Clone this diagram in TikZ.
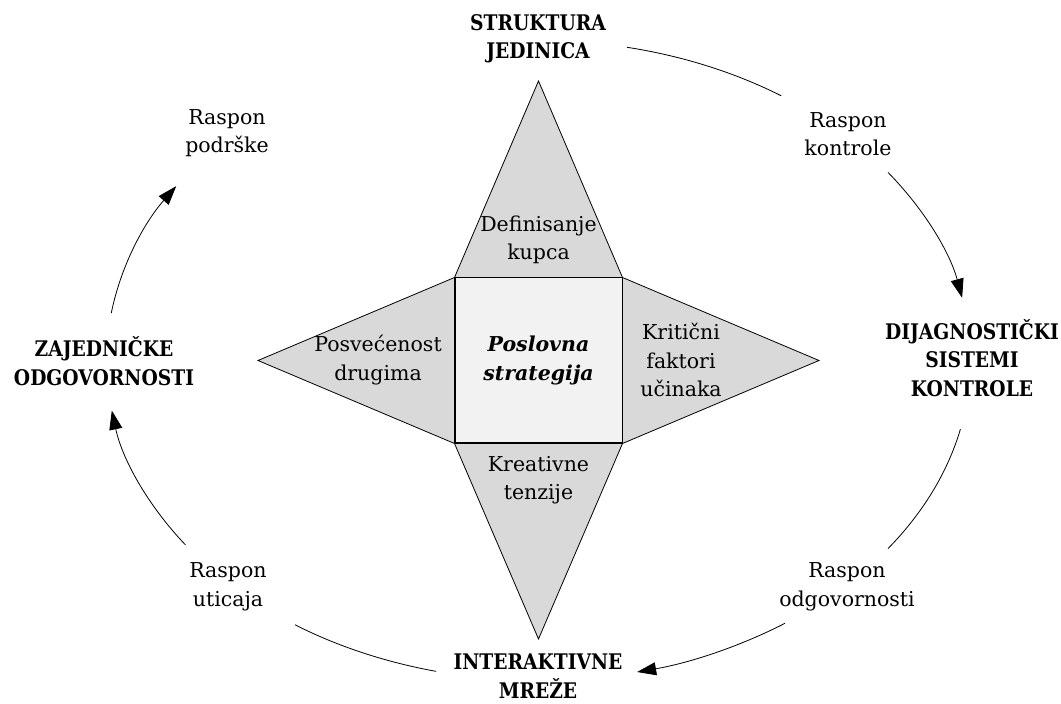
\documentclass[tikz,border=0pt]{standalone}
\usepackage{fontspec}
\setmainfont{DejaVu Serif}
\newfontfamily\headfont{DejaVu Serif}[FakeStretch=0.87]
\usetikzlibrary{arrows.meta,calc}
\definecolor{petalgray}{HTML}{D9D9D9}
\definecolor{coregray}{HTML}{F2F2F2}

\begin{document}
\begin{tikzpicture}[x=1pt,y=1pt,
  lbl/.style={align=center, inner sep=0pt, font=\fontsize{20.5}{28.5}\selectfont},
  head/.style={align=center, inner sep=0pt, font=\headfont\fontsize{21.5}{28.5}\selectfont\bfseries},
  petal/.style={draw=black, fill=petalgray, line width=0.8pt, line join=miter},
  core/.style={draw=black, fill=coregray, line width=1pt, inner sep=0pt,
               minimum width=167pt, minimum height=165pt, align=center,
               font=\fontsize{20.5}{28.5}\selectfont\bfseries\itshape},
  ring/.style={line width=0.8pt},
  flow/.style={ring, -{Triangle[length=19pt,width=13pt]}}
]
\useasboundingbox (0,0) rectangle (1061,704);

% centre of the star and of the surrounding ellipse
\coordinate (O) at (538.5,343.5);

% central square
\node[core] (core) at (O) {};

% the four petals
\coordinate (topapex) at (538.5,623);
\coordinate (botapex) at (538.5,65);
\coordinate (leftapex) at (258,343.5);
\coordinate (rightapex) at (819,343.5);
\draw[petal] (core.north west) -- (topapex) -- (core.north east) -- cycle;
\draw[petal] (core.south west) -- (botapex) -- (core.south east) -- cycle;
\draw[petal] (core.north west) -- (leftapex) -- (core.south west) -- cycle;
\draw[petal] (core.north east) -- (rightapex) -- (core.south east) -- cycle;
\node[core] (core) at (O) {Poslovna\\strategija};

% petal labels
\node[lbl] (kupac) at (538.5,464) {Definisanje\\kupca};
\node[lbl] (drugi) at (378,344) {Posvećenost\\drugima};
\node[lbl] (faktori) at (681,344) {Kritični\\faktori\\učinaka};
\node[lbl] (tenzije) at (538.5,224) {Kreativne\\tenzije};

% outer levers
\node[head] (struktura) at (538,665) {STRUKTURA\\JEDINICA};
\node[head] (dijag) at (972,346) {DIJAGNOSTIČKI\\SISTEMI\\KONTROLE};
\node[head] (mreze) at (538,28) {INTERAKTIVNE\\MREŽE};
\node[head] (zajed) at (104,343) {ZAJEDNIČKE\\ODGOVORNOSTI};

% spans between the levers
\node[lbl] (podrska) at (227,571) {Raspon\\podrške};
\node[lbl] (kontrola) at (848,570) {Raspon\\kontrole};
\node[lbl] (odgovornost) at (847,117) {Raspon\\odgovornosti};
\node[lbl] (uticaj) at (228,117) {Raspon\\uticaja};

% end points of the arcs on the ellipse
\foreach \n/\a in {s1/78.2, e1/55.8, s2/36, e2/11.3, s3/-12.4, e3/-36,
                   s4/-55.2, e4/-76.8, s5/-103.7, e5/-124.3,
                   s6/-144.8, e6/-171, s7/171.5, e7/147}
  \coordinate (\n) at ($(O)+(\a:432pt and 320pt)$);

\draw[ring] (s1) arc[start angle=78.2, end angle=55.8, x radius=432pt, y radius=320pt];
\draw[flow] (s2) arc[start angle=36, end angle=11.3, x radius=432pt, y radius=320pt];
\draw[ring] (s3) arc[start angle=-12.4, end angle=-36, x radius=432pt, y radius=320pt];
\draw[flow] (s4) arc[start angle=-55.2, end angle=-76.8, x radius=432pt, y radius=320pt];
\draw[ring] (s5) arc[start angle=-103.7, end angle=-124.3, x radius=432pt, y radius=320pt];
\draw[flow] (s6) arc[start angle=-144.8, end angle=-171, x radius=432pt, y radius=320pt];
\draw[flow] (s7) arc[start angle=171.5, end angle=147, x radius=432pt, y radius=320pt];
\end{tikzpicture}
\end{document}
